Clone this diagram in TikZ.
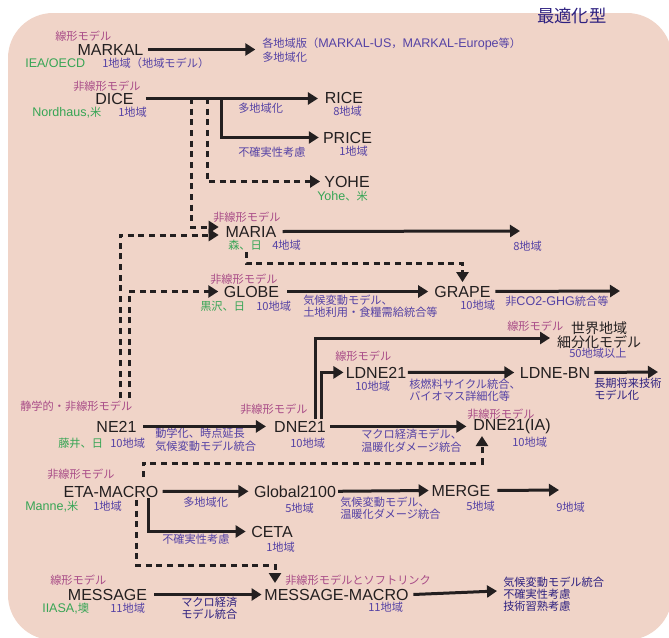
\documentclass[tikz,border=0pt]{standalone}
\usepackage{fontspec}
\setmainfont{Liberation Sans}
\newfontfamily\jp{Noto Sans CJK JP}
\usetikzlibrary{arrows.meta}
\definecolor{bg}{RGB}{240,212,200}
\definecolor{ink}{RGB}{35,31,32}
\definecolor{mag}{RGB}{168,75,135}
\definecolor{grn}{RGB}{55,165,85}
\definecolor{pur}{RGB}{85,66,165}
\definecolor{nav}{RGB}{45,32,128}
\newcommand\Lx[1]{{\rmfamily\fontsize{9.4}{8.7}\selectfont #1}}
\tikzset{
 model/.style={anchor=base, inner sep=0pt, text=ink, font=\fontsize{12}{14}\selectfont},
 lab/.style={anchor=base west, inner sep=0pt, align=left, font=\jp\fontsize{8.4}{8.7}\selectfont},
 typ/.style={lab, text=mag},
 org/.style={lab, text=grn},
 dsc/.style={lab, text=pur},
 dsn/.style={lab, text=nav},
 arr/.style={line width=2.25pt, draw=ink, -{Triangle[length=7.5pt,width=9pt]}},
 dot/.style={arr, dash pattern=on 4.5pt off 3.5pt},
}
\begin{document}
\begin{tikzpicture}[x=0.75pt,y=-0.75pt]
\useasboundingbox (0,0) rectangle (669,637);
\fill[bg, rounded corners=33.75pt] (8,13) rectangle (672,640);
\node[anchor=base west, inner sep=0pt, text=nav, font=\jp\fontsize{13}{14}\selectfont] (title) at (537,22) {最適化型};

% model names
\node[model] (markal) at (110.5,55) {MARKAL};
\node[model] (dice) at (114.5,104) {DICE};
\node[model] (rice) at (344,103.5) {RICE};
\node[model] (price) at (347.5,143) {PRICE};
\node[model] (yohe) at (347,187) {YOHE};
\node[model] (maria) at (251,237) {MARIA};
\node[model] (globe) at (251.5,297) {GLOBE};
\node[model] (grape) at (462.5,297) {GRAPE};
\node[model] (ne21) at (116.5,432) {NE21};
\node[model] (dne21) at (300,432) {DNE21};
\node[model] (dneia) at (512,430.5) {DNE21(IA)};
\node[model] (ldne21) at (376,378) {LDNE21};
\node[model] (ldnebn) at (555,378) {LDNE-BN};
\node[model] (eta) at (111,497) {ETA-MACRO};
\node[model] (global) at (295,497) {Global2100};
\node[model] (ceta) at (272,537) {CETA};
\node[model] (merge) at (461,496) {MERGE};
\node[model] (message) at (107.5,600) {MESSAGE};
\node[model] (mmacro) at (336.5,600) {MESSAGE-MACRO};
\node[anchor=base, inner sep=0pt, align=center, text=ink, font=\jp\fontsize{10.5}{10}\selectfont] (world) at (599,347) {世界地域\\細分化モデル};

% labels
\node[typ] (t1) at (55,40) {線形モデル};
\node[org] (o1) at (25,67) {\Lx{IEA/OECD}};
\node[dsc] (r1) at (102,67) {1地域（地域モデル）};
\node[dsc] (markalout) at (262,61) {各地域版（\Lx{MARKAL-US}，\Lx{MARKAL-Europe}等）\\多地域化};
\node[typ] (t2) at (73,90) {非線形モデル};
\node[org] (o2) at (32,116) {\Lx{Nordhaus,}米};
\node[dsc] (r2) at (118,116) {1地域};
\node[dsc] (x1) at (238,112) {多地域化};
\node[dsc] (r3) at (333,115.5) {8地域};
\node[dsc] (x2) at (238,156) {不確実性考慮};
\node[dsc] (r4) at (339,155) {1地域};
\node[org] (o3) at (317,200) {\Lx{Yohe}、米};
\node[typ] (t3) at (213,221) {非線形モデル};
\node[org] (o4) at (228,249) {森、日};
\node[dsc] (r5) at (272,249) {4地域};
\node[dsc] (r6) at (513,250) {8地域};
\node[typ] (t4) at (210,283) {非線形モデル};
\node[org] (o5) at (200,310) {黒沢、日};
\node[dsc] (r7) at (256,310) {10地域};
\node[dsc] (x3) at (303,316) {気候変動モデル、\\土地利用・食糧需給統合等};
\node[dsc] (r8) at (460,309) {10地域};
\node[dsc] (x4) at (505,305) {非\Lx{CO2-GHG}統合等};
\node[typ] (t5) at (507,330) {線形モデル};
\node[dsc] (r9) at (569,357) {50地域以上};
\node[typ] (t6) at (335,360) {線形モデル};
\node[dsc] (r10) at (355,390) {10地域};
\node[dsc] (x5) at (409,400) {核燃料サイクル統合、\\バイオマス詳細化等};
\node[dsn] (x6) at (594,399) {長期将来技術\\モデル化};
\node[typ] (t7) at (20,410) {静学的・非線形モデル};
\node[org] (o6) at (58,447) {藤井、日};
\node[dsc] (r11) at (110,447) {10地域};
\node[dsc] (x7) at (155,450) {動学化、時点延長\\[1pt]気候変動モデル統合};
\node[typ] (t8) at (240,413) {非線形モデル};
\node[dsc] (r12) at (290,447) {10地域};
\node[dsc] (x8) at (361,451) {マクロ経済モデル、\\[1pt]温暖化ダメージ統合};
\node[typ] (t9) at (467,418) {非線形モデル};
\node[dsc] (r13) at (512,446) {10地域};
\node[typ] (t10) at (47,478) {非線形モデル};
\node[org] (o7) at (25,510) {\Lx{Manne,}米};
\node[dsc] (r14) at (93,510) {1地域};
\node[dsc] (x9) at (183,506) {多地域化};
\node[dsc] (r15) at (285,512) {5地域};
\node[dsc] (x10) at (162,543) {不確実性考慮};
\node[dsc] (r16) at (266,551) {1地域};
\node[dsc] (x11) at (340,518) {気候変動モデル、\\温暖化ダメージ統合};
\node[dsc] (r17) at (466,510) {5地域};
\node[dsc] (r18) at (556,511) {9地域};
\node[typ] (t11) at (50,584) {線形モデル};
\node[org] (o8) at (42,612) {\Lx{IIASA,}墺};
\node[dsc] (r19) at (110,612) {11地域};
\node[dsn] (x12) at (181,618) {マクロ経済\\モデル統合};
\node[typ] (t12) at (285,584) {非線形モデルとソフトリンク};
\node[dsc] (r20) at (368,611.5) {11地域};
\node[dsn] (x13) at (503,610) {気候変動モデル統合\\不確実性考慮\\技術習熟考慮};

% coordinates
\coordinate (d1) at (191,98);
\coordinate (d2) at (207,98);
\coordinate (d3) at (221,98);
\coordinate (n1) at (120,398);
\coordinate (n2) at (129,398);
\coordinate (m1) at (246,252);
\coordinate (m2) at (246,263);
\coordinate (e1) at (143,477);
\coordinate (e2) at (143,463);
\coordinate (e3) at (136,500);
\coordinate (e4) at (136,565);
\coordinate (iaIn) at (482,436);
\coordinate (mmIn) at (275,583);
\coordinate (mariaEnd) at (520,231);
\coordinate (grapeEnd) at (620,291);
\coordinate (bnEnd) at (658,372);
\coordinate (mergeEnd) at (559,490);
\coordinate (mmEnd) at (497,591);
\coordinate (w1) at (315,338);
\coordinate (w2) at (321,419);
\coordinate (w3) at (315,419);
\coordinate (mA) at (0,227);
\coordinate (mB) at (0,235);
\coordinate (ceta1) at (148,498);

% solid connectors
\draw[arr] ([xshift=3pt]markal.east) -- ([xshift=-5pt]markalout.west |- markal.east);
\draw[arr] ([xshift=9pt]dice.east) -- ([xshift=-5pt]rice.west |- dice.east);
\draw[arr] (d3) |- ([xshift=-3pt]price.west);
\draw[arr] ([xshift=4.5pt]maria.east) -- (mariaEnd);
\draw[arr] ([xshift=6pt]globe.east) -- ([xshift=-4.5pt]grape.west);
\draw[arr] ([xshift=3.5pt]grape.east) -- (grapeEnd);
\draw[arr] (w3) |- ([xshift=-5pt]world.west |- w1);
\draw[arr] (w2) |- ([xshift=-1.5pt]ldne21.west);
\draw[arr] ([xshift=1pt]ldne21.east) -- ([xshift=-4pt]ldnebn.west);
\draw[arr] ([xshift=3pt]ldnebn.east) -- (bnEnd);
\draw[arr] ([xshift=5pt]ne21.east) -- ([xshift=-6pt]dne21.west);
\draw[arr] ([xshift=3pt]dne21.east) -- ([xshift=-5pt]dneia.west |- dne21.east);
\draw[arr] ([xshift=3pt]eta.east) -- ([xshift=-4pt]global.west);
\draw[arr] (ceta1) |- ([xshift=-4pt]ceta.west);
\draw[arr] ([xshift=1.5pt]global.east) -- ([xshift=-2pt]merge.west);
\draw[arr] ([xshift=5pt]merge.east) -- (mergeEnd);
\draw[arr] ([xshift=5pt]message.east) -- ([xshift=-2pt]mmacro.west);
\draw[arr] ([xshift=3.5pt]mmacro.east) -- (mmEnd);

% dotted connectors
\draw[dot] (d1) |- ([xshift=-5pt]maria.west |- mA);
\draw[dot] (d2) |- ([xshift=-3pt]yohe.west);
\draw[dot] (n1) |- ([xshift=-5pt]maria.west |- mB);
\draw[dot] (n2) |- ([xshift=-4pt]globe.west);
\draw[dot] (m1) -- (m2) -| ([yshift=2.6pt]grape.north);
\draw[dot] (e1) -- (e2) -| (iaIn);
\draw[dot] (e3) -- (e4) -| (mmIn);
\end{tikzpicture}
\end{document}
